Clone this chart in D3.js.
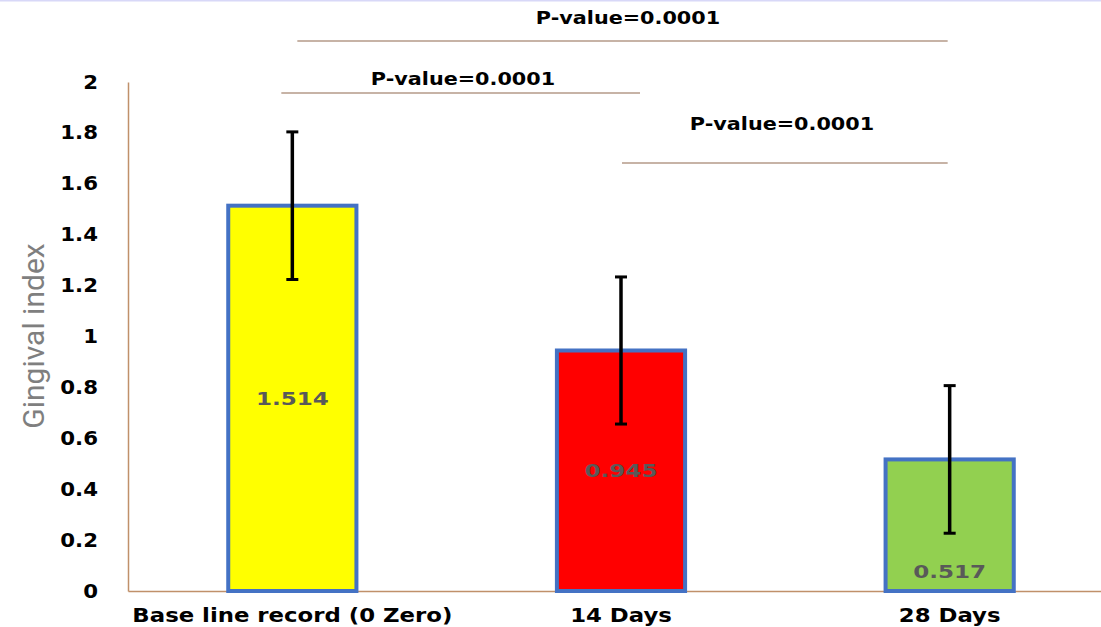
<!DOCTYPE html>
<html>
<head>
<meta charset="utf-8">
<script src="https://cdn.jsdelivr.net/npm/d3@7.9.0/dist/d3.min.js"></script>
<style>
  body { margin: 0; background: #fff; }
  svg { display: block; }
</style>
</head>
<body>
<div id="chart"></div>
<script>
// data
const categories = ["Base line record (0 Zero)", "14 Days", "28 Days"];
const means = [1.514, 0.945, 0.517];
const sds = [0.29, 0.289, 0.29];
const barColors = ["#ffff00", "#ff0000", "#92d050"];
const labelPlacement = ["center", "center", "base"];
const yTicks = [0, 0.2, 0.4, 0.6, 0.8, 1, 1.2, 1.4, 1.6, 1.8, 2];
// comparisons: [from index, to index, label]
const comparisons = [
  { from: 0, to: 2, label: "P-value=0.0001" },
  { from: 0, to: 1, label: "P-value=0.0001" },
  { from: 1, to: 2, label: "P-value=0.0001" }
];

const W = 1101, H = 627;
const margin = { top: 82, right: -13, bottom: 36, left: 128 };
const width = W - margin.left - margin.right;
const height = H - margin.top - margin.bottom;
const FONT = "DejaVu Sans, Verdana, sans-serif";

// the original picture is a bit stretched sideways, so widen the glyphs
function stretch(sel, k) {
  sel.each(function () {
    const len = this.getComputedTextLength();
    d3.select(this).attr("textLength", len * k).attr("lengthAdjust", "spacingAndGlyphs");
  });
}

const svg = d3.select("#chart").append("svg")
  .attr("width", W)
  .attr("height", H);

// faint top border line
svg.append("line")
  .attr("x1", 0).attr("x2", W).attr("y1", 0.5).attr("y2", 0.5)
  .attr("stroke", "#d8d8f8").attr("stroke-width", 2);

const g = svg.append("g")
  .attr("transform", `translate(${margin.left},${margin.top})`);

const x = d3.scaleBand()
  .domain(categories)
  .range([0, width])
  .paddingInner(0.61)
  .paddingOuter(0.305);

const y = d3.scaleLinear()
  .domain([0, 2])
  .range([height, 0]);

// y axis
const yAxis = g.append("g")
  .call(d3.axisLeft(y).tickValues(yTicks).tickSize(0).tickPadding(30)
    .tickFormat(d => d3.format("")(d)));
yAxis.select(".domain").attr("stroke", "#c0906a").attr("stroke-width", 1.5);
yAxis.selectAll("text")
  .attr("font-family", FONT)
  .attr("font-weight", "bold")
  .attr("font-size", 19)
  .attr("fill", "#000")
  .call(stretch, 1.12);

// x axis
const xAxis = g.append("g")
  .attr("transform", `translate(0,${height})`)
  .call(d3.axisBottom(x).tickSize(0).tickPadding(18));
xAxis.select(".domain").attr("stroke", "#c0906a").attr("stroke-width", 1.5);
xAxis.selectAll("text")
  .attr("font-family", FONT)
  .attr("font-weight", "bold")
  .attr("font-size", 19)
  .attr("fill", "#000")
  .call(stretch, 1.2);

const data = categories.map((c, i) => ({
  cat: c, mean: means[i], sd: sds[i], color: barColors[i], place: labelPlacement[i]
}));

// bars
g.selectAll(".bar")
  .data(data)
  .join("rect")
    .attr("class", "bar")
    .attr("x", d => x(d.cat))
    .attr("y", d => y(d.mean))
    .attr("width", x.bandwidth())
    .attr("height", d => y(0) - y(d.mean))
    .attr("fill", d => d.color)
    .attr("stroke", "#4472c4")
    .attr("stroke-width", 4);

// value labels
g.selectAll(".val")
  .data(data)
  .join("text")
    .attr("class", "val")
    .attr("x", d => x(d.cat) + x.bandwidth() / 2)
    .attr("y", d => d.place === "center" ? (y(d.mean) + y(0)) / 2 : y(0) - 19)
    .attr("dy", "0.35em")
    .attr("text-anchor", "middle")
    .attr("font-family", FONT)
    .attr("font-weight", "bold")
    .attr("font-size", 18)
    .attr("fill", "#595959")
    .text(d => d.mean)
    .call(stretch, 1.28);

// error bars
const err = g.selectAll(".err")
  .data(data)
  .join("g")
    .attr("class", "err")
    .attr("stroke", "#000")
    .attr("stroke-width", 3.5);
err.append("line")
  .attr("x1", d => x(d.cat) + x.bandwidth() / 2)
  .attr("x2", d => x(d.cat) + x.bandwidth() / 2)
  .attr("y1", d => y(d.mean + d.sd))
  .attr("y2", d => y(d.mean - d.sd));
err.append("line")
  .attr("stroke-width", 3)
  .attr("x1", d => x(d.cat) + x.bandwidth() / 2 - 6)
  .attr("x2", d => x(d.cat) + x.bandwidth() / 2 + 6)
  .attr("y1", d => y(d.mean + d.sd))
  .attr("y2", d => y(d.mean + d.sd));
err.append("line")
  .attr("stroke-width", 3)
  .attr("x1", d => x(d.cat) + x.bandwidth() / 2 - 6)
  .attr("x2", d => x(d.cat) + x.bandwidth() / 2 + 6)
  .attr("y1", d => y(d.mean - d.sd))
  .attr("y2", d => y(d.mean - d.sd));

// y axis title
svg.append("text")
  .attr("transform", `translate(44,336) rotate(-90)`)
  .attr("text-anchor", "middle")
  .attr("font-family", "Liberation Sans Narrow, Roboto, sans-serif")
  .attr("font-size", 30)
  .attr("fill", "#7f7f7f")
  .text("Gingival index");

// significance brackets (free-placed lines + labels)
const cx = i => margin.left + x(categories[i]) + x.bandwidth() / 2;
const bracketSpec = [
  { lineY: 41, textY: 18, x1: cx(0) + 5, x2: cx(2) - 2, tx: 628 },
  { lineY: 93, textY: 79, x1: cx(0) - 11, x2: cx(1) + 19, tx: 463 },
  { lineY: 163, textY: 124, x1: cx(1) + 1, x2: cx(2) - 2, tx: 782 }
];
comparisons.forEach((c, i) => {
  const b = bracketSpec[i];
  svg.append("line")
    .attr("x1", b.x1).attr("x2", b.x2)
    .attr("y1", b.lineY).attr("y2", b.lineY)
    .attr("stroke", "#b49a88").attr("stroke-width", 1.4);
  svg.append("text")
    .attr("x", b.tx).attr("y", b.textY)
    .attr("dy", "0.35em")
    .attr("text-anchor", "middle")
    .attr("font-family", FONT)
    .attr("font-weight", "bold")
    .attr("font-size", 17)
    .attr("fill", "#000")
    .text(c.label)
    .call(stretch, 1.22);
});
</script>
</body>
</html>
